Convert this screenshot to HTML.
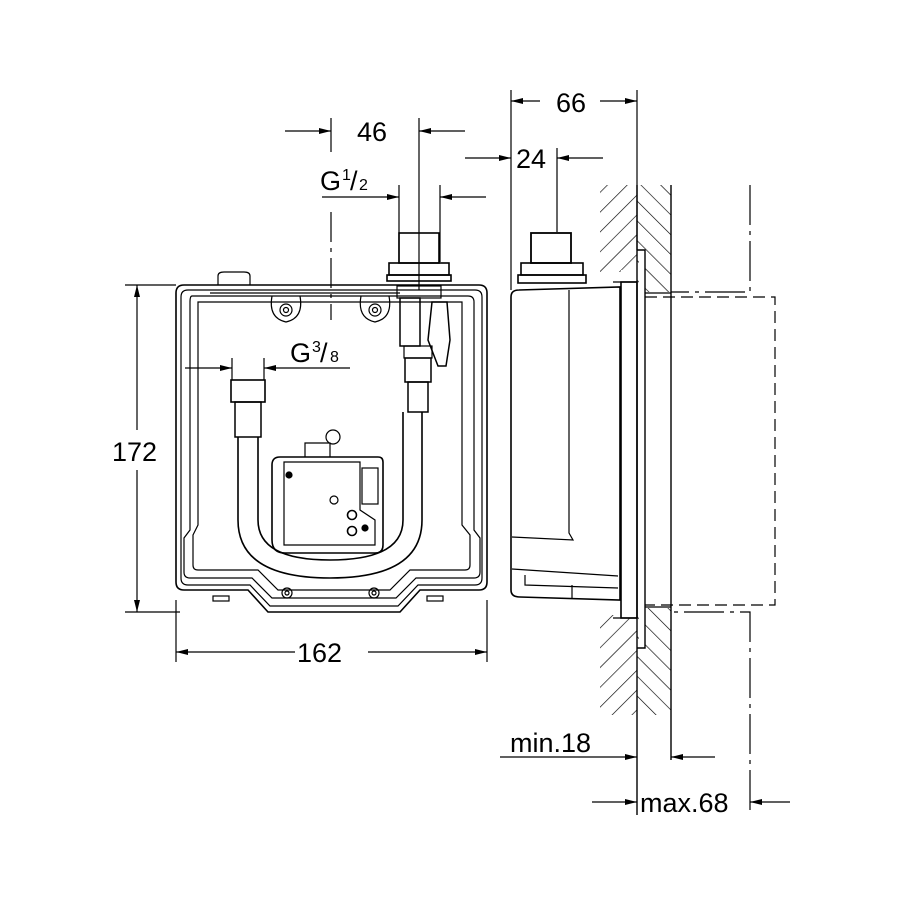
<!DOCTYPE html>
<html><head><meta charset="utf-8"><style>
html,body{margin:0;padding:0;background:#fff}
svg{display:block}
text{font-family:"Liberation Sans",sans-serif;fill:#000}
</style></head><body>
<svg width="900" height="900" viewBox="0 0 900 900" xmlns="http://www.w3.org/2000/svg">
<defs>
<marker id="ar" viewBox="0 0 12 6" refX="12" refY="3" markerWidth="12" markerHeight="6" orient="auto" markerUnits="userSpaceOnUse"><path d="M0,0L12,3L0,6z" fill="#000"/></marker>
<pattern id="hl" patternUnits="userSpaceOnUse" width="14" height="14" patternTransform="rotate(45)"><line x1="0" y1="0" x2="0" y2="14" stroke="#000" stroke-width="1.3"/></pattern>
<pattern id="hr" patternUnits="userSpaceOnUse" width="14" height="14" patternTransform="rotate(-45)"><line x1="0" y1="0" x2="0" y2="14" stroke="#000" stroke-width="1.3"/></pattern>
</defs>
<g stroke="#000" fill="none" stroke-width="1.2">
<line x1="331" y1="118" x2="331" y2="152"/>
<line x1="419" y1="118" x2="419" y2="290"/>
<line x1="285" y1="131" x2="331" y2="131" marker-end="url(#ar)"/>
<line x1="465" y1="131" x2="419" y2="131" marker-end="url(#ar)"/>
<line x1="399" y1="185" x2="399" y2="262"/>
<line x1="440" y1="185" x2="440" y2="262"/>
<line x1="322" y1="197" x2="399" y2="197" marker-end="url(#ar)"/>
<line x1="486" y1="197" x2="440" y2="197" marker-end="url(#ar)"/>
<line x1="331" y1="212" x2="331" y2="320" stroke-dasharray="30,6,4,6"/>
<line x1="511" y1="90" x2="511" y2="290"/>
<line x1="637" y1="90" x2="637" y2="250"/>
<line x1="540" y1="101" x2="511" y2="101" marker-end="url(#ar)"/>
<line x1="600" y1="101" x2="637" y2="101" marker-end="url(#ar)"/>
<line x1="465" y1="158" x2="511" y2="158" marker-end="url(#ar)"/>
<line x1="603" y1="158" x2="557" y2="158" marker-end="url(#ar)"/>
<line x1="557" y1="148" x2="557" y2="232"/>

<line x1="125" y1="285" x2="176" y2="285"/>
<line x1="125" y1="612" x2="180" y2="612"/>
<line x1="137" y1="430" x2="137" y2="285" marker-end="url(#ar)"/>
<line x1="137" y1="470" x2="137" y2="612" marker-end="url(#ar)"/>
<line x1="176" y1="600" x2="176" y2="662"/>
<line x1="487" y1="600" x2="487" y2="662"/>
<line x1="295" y1="652" x2="176" y2="652" marker-end="url(#ar)"/>
<line x1="368" y1="652" x2="487" y2="652" marker-end="url(#ar)"/>

<path d="M184,285 H479 Q487,285 487,293 V582 Q487,590 479,590 H420 L400,612 H268 L248,590 H184 Q176,590 176,582 V293 Q176,285 184,285Z" stroke-width="1.6"/>
<path d="M188,290 H475 Q482,290 482,297 V578 Q482,585 475,585 H418 L398,606 H270 L250,585 H188 Q181,585 181,578 V297 Q181,290 188,290Z"/>
<path d="M192,296 H468 Q474,296 474,302 V530 L480,538 V572 Q480,578 474,578 H416 L396,598 H272 L252,578 H190 Q184,578 184,572 V538 L190,530 V302 Q190,296 192,296Z"/>
<path d="M198,302 H462 V525 L470,535 V565 Q470,570 465,570 H410 L390,590 H278 L258,570 H198 Q193,570 193,565 V535 L198,525Z"/>
<path d="M218,285 V276 Q218,272 224,272 H244 Q250,272 250,276 V285"/>
<line x1="210" y1="293" x2="400" y2="293"/>
<path d="M272,296 Q268,318 286,322 Q304,318 300,296"/>
<circle cx="286" cy="310" r="6"/><circle cx="286" cy="310" r="2.5"/>
<path d="M361,296 Q357,318 375,322 Q393,318 389,296"/>
<circle cx="375" cy="310" r="6"/><circle cx="375" cy="310" r="2.5"/>
<circle cx="287" cy="593" r="5"/><circle cx="287" cy="593" r="2"/>
<circle cx="374" cy="593" r="5"/><circle cx="374" cy="593" r="2"/>
<rect x="213" y="596" width="16" height="5"/><rect x="427" y="596" width="16" height="5"/>
<rect x="399" y="233" width="40" height="30" stroke-width="1.6"/>
<rect x="389" y="263" width="60" height="12" stroke-width="1.6"/>
<rect x="387" y="275" width="64" height="6" stroke-width="1.6"/>
<rect x="397" y="286" width="44" height="12"/>
<rect x="400" y="298" width="20" height="48" stroke-width="1.5"/>
<path d="M432,302 H447 L450,340 L446,366 H438 L428,340Z" stroke-width="1.5"/>
<rect x="404" y="346" width="28" height="12"/>
<rect x="405" y="358" width="26" height="24" stroke-width="1.5"/>
<rect x="408" y="382" width="20" height="30" stroke-width="1.5"/>
<rect x="231" y="380" width="34" height="22" stroke-width="1.6"/>
<rect x="235" y="402" width="26" height="35" stroke-width="1.5"/>
<path d="M238,437 V520 Q238,578 330,578 Q422,578 422,520 V412" stroke-width="1.6"/>
<path d="M258,437 V520 Q258,560 330,560 Q403,560 403,520 V412" stroke-width="1.6"/>
<path d="M280,457 H378 Q383,457 383,462 V545 Q383,553 375,553 H285 Q272,553 272,540 V465 Q272,457 280,457Z" stroke-width="1.6"/>
<path d="M284,462 H360 V510 L375,520 V545 H284Z"/>
<rect x="362" y="468" width="16" height="36"/>
<path d="M305,457 V443 H330 V457"/>
<circle cx="333" cy="437" r="7"/>
<circle cx="289" cy="475" r="3" fill="#000"/>
<circle cx="334" cy="500" r="4"/>
<circle cx="352" cy="515" r="4.5" stroke-width="1.6"/><circle cx="352" cy="531" r="4.5" stroke-width="1.6"/><circle cx="365" cy="528" r="3" fill="#000"/>
<line x1="185" y1="368" x2="232" y2="368" marker-end="url(#ar)"/>
<line x1="350" y1="368" x2="264" y2="368" marker-end="url(#ar)"/>
<line x1="232" y1="358" x2="232" y2="380"/><line x1="264" y1="358" x2="264" y2="380"/>

<rect x="531" y="233" width="40" height="30" stroke-width="1.8"/>
<rect x="521" y="263" width="62" height="12" stroke-width="1.6"/>
<rect x="518" y="275" width="68" height="8" stroke-width="1.6"/>
<path d="M519,290 L620,287 V600 L520,597 Q511,597 511,590 V297 Q511,290 519,290Z" stroke-width="1.6"/>
<path d="M569,290 V533 L573,540 L512,537"/>
<path d="M512,569 L618,576"/><path d="M525,575 V585 L618,588"/>
<path d="M572,585 V598"/>
<rect x="621" y="282" width="16" height="336" stroke-width="1.6"/>
<line x1="613" y1="282" x2="637" y2="282"/><line x1="613" y1="618" x2="637" y2="618"/>
<path d="M600,185 V272 H621 V270 H637 V185Z" fill="url(#hl)" stroke="none"/>
<path d="M637,185 V292 H671 V185Z" fill="url(#hr)" stroke="none"/>
<path d="M600,615 V715 H637 V618 H621 V615Z" fill="url(#hl)" stroke="none"/>
<path d="M637,608 V715 H671 V608Z" fill="url(#hr)" stroke="none"/>
<rect x="639" y="250" width="6" height="80" fill="#fff" stroke="none"/>
<rect x="639" y="570" width="6" height="82" fill="#fff" stroke="none"/>
<line x1="637" y1="185" x2="637" y2="815" stroke-width="1.4"/>
<line x1="671" y1="185" x2="671" y2="760" stroke-width="1.4"/>
<path d="M637,250 H645 V648 H637" stroke-width="1.4"/>
<line x1="645" y1="293" x2="671" y2="293"/><line x1="645" y1="607" x2="671" y2="607"/>
<path d="M645,297 H775 V605 H645" stroke-dasharray="12,6"/>
<path d="M750,185 V292 H671" stroke-dasharray="40,6,4,6"/>
<path d="M750,810 V612 H671" stroke-dasharray="40,6,4,6"/>
<line x1="500" y1="757" x2="637" y2="757" marker-end="url(#ar)"/>
<line x1="715" y1="757" x2="671" y2="757" marker-end="url(#ar)"/>
<line x1="592" y1="802" x2="637" y2="802" marker-end="url(#ar)"/>
<line x1="790" y1="802" x2="750" y2="802" marker-end="url(#ar)"/>
</g>
<g font-size="27">
<text x="357" y="141">46</text>
<text x="556" y="112">66</text>
<text x="516" y="168">24</text>
<text x="320" y="190">G</text><text x="342" y="180" font-size="16">1</text><text x="350" y="190">/</text><text x="359" y="190" font-size="16">2</text>
<text x="290" y="362">G</text><text x="312" y="352" font-size="16">3</text><text x="320" y="362">/</text><text x="330" y="362" font-size="16">8</text>
<text x="112" y="461">172</text>
<text x="297" y="662">162</text>
<text x="510" y="752">min.18</text>
<text x="640" y="812">max.68</text>
</g>
</svg>
</body></html>
